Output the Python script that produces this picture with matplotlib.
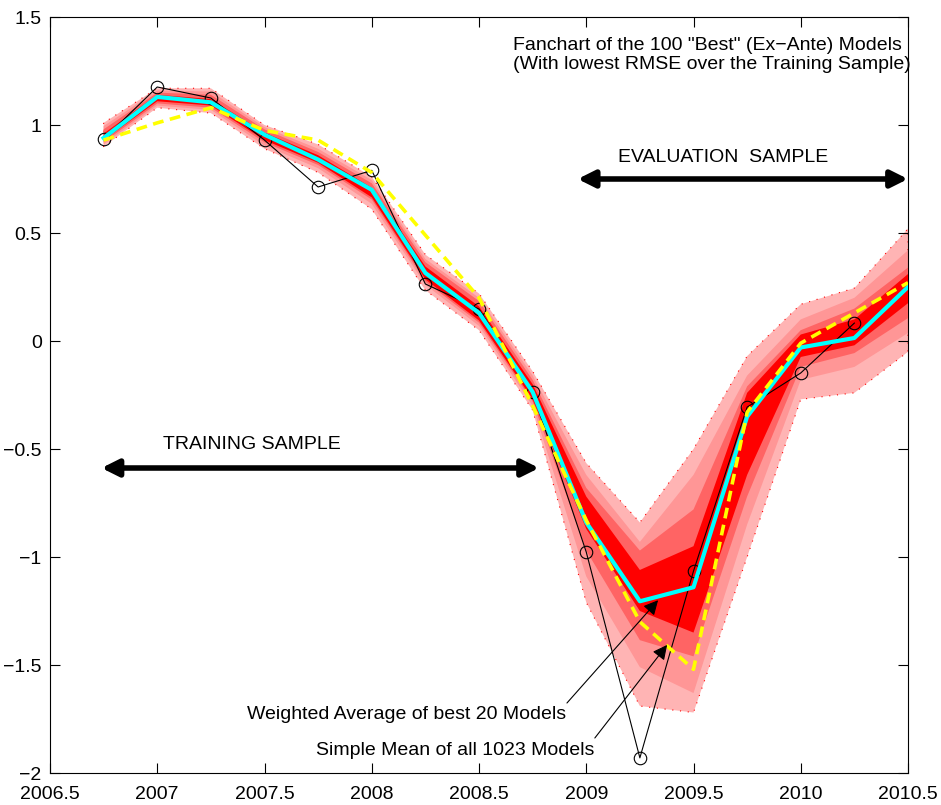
import matplotlib
matplotlib.use("Agg")
import matplotlib.pyplot as plt

plt.rcParams["font.family"] = ["Liberation Sans", "DejaVu Sans"]

# quarterly dates
quarters = [2006.75, 2007.0, 2007.25, 2007.5, 2007.75, 2008.0, 2008.25, 2008.5,
            2008.75, 2009.0, 2009.25, 2009.5, 2009.75, 2010.0, 2010.25, 2010.5]

# actual outcome (ends one quarter early)
actual = [0.935, 1.176, 1.125, 0.93, 0.713, 0.79, 0.264, 0.148,
          -0.236, -0.977, -1.93, -1.065, -0.306, -0.148, 0.083]

# weighted average of best 20 models
weighted_best20 = [0.94, 1.13, 1.105, 0.955, 0.84, 0.70, 0.315, 0.13,
                   -0.236, -0.84, -1.205, -1.14, -0.35, -0.03, 0.014, 0.25]

# simple mean of all 1023 models
simple_mean = [0.93, 1.01, 1.08, 0.975, 0.93, 0.78, 0.49, 0.20,
               -0.30, -0.83, -1.30, -1.52, -0.33, -0.01, 0.13, 0.27]

# fan bands, outermost (1) to innermost (4)
band1_lo = [0.90, 1.08, 1.055, 0.89, 0.78, 0.61, 0.235, 0.05,
            -0.32, -1.21, -1.69, -1.72, -1.00, -0.27, -0.24, -0.05]
band1_hi = [1.01, 1.17, 1.17, 1.00, 0.91, 0.76, 0.40, 0.22,
            -0.14, -0.565, -0.84, -0.50, -0.07, 0.17, 0.245, 0.52]
band2_lo = [0.91, 1.09, 1.07, 0.905, 0.80, 0.635, 0.26, 0.07,
            -0.30, -1.09, -1.51, -1.63, -0.85, -0.18, -0.12, 0.037]
band2_hi = [0.995, 1.16, 1.155, 0.99, 0.89, 0.745, 0.38, 0.20,
            -0.16, -0.62, -0.93, -0.62, -0.16, 0.10, 0.20, 0.42]
band3_lo = [0.92, 1.10, 1.08, 0.92, 0.815, 0.655, 0.275, 0.085,
            -0.28, -0.97, -1.385, -1.46, -0.72, -0.12, -0.056, 0.106]
band3_hi = [0.98, 1.15, 1.14, 0.98, 0.875, 0.73, 0.365, 0.185,
            -0.18, -0.68, -0.97, -0.78, -0.21, 0.05, 0.15, 0.34]
band4_lo = [0.93, 1.11, 1.09, 0.93, 0.825, 0.665, 0.285, 0.095,
            -0.27, -0.87, -1.25, -1.35, -0.62, -0.074, -0.02, 0.175]
band4_hi = [0.96, 1.14, 1.12, 0.965, 0.86, 0.71, 0.345, 0.16,
            -0.20, -0.72, -1.06, -0.95, -0.24, 0.03, 0.10, 0.31]

band_colors = ["#FFB4B4", "#FF9696", "#FF6464", "#FF0000"]

xticks = [2006.5, 2007, 2007.5, 2008, 2008.5, 2009, 2009.5, 2010, 2010.5]
xticklabels = ["2006.5", "2007", "2007.5", "2008", "2008.5", "2009", "2009.5", "2010", "2010.5"]
yticks = [-2, -1.5, -1, -0.5, 0, 0.5, 1, 1.5]
yticklabels = ["\u22122", "\u22121.5", "\u22121", "\u22120.5", "0", "0.5", "1", "1.5"]

fig = plt.figure(figsize=(9.41, 8.05), dpi=100)
ax = fig.add_axes([50 / 941, 32 / 805, 858 / 941, 756 / 805])

bands = [(band1_lo, band1_hi), (band2_lo, band2_hi), (band3_lo, band3_hi), (band4_lo, band4_hi)]
for i, (lo, hi) in enumerate(bands):
    if i == 0:
        ax.fill_between(quarters, lo, hi, facecolor=band_colors[i], edgecolor="red",
                        linestyle=(0, (1, 6)), linewidth=0.8, zorder=1)
    else:
        ax.fill_between(quarters, lo, hi, facecolor=band_colors[i], edgecolor="none",
                        linewidth=0, zorder=1 + i)

ax.plot(quarters[:len(actual)], actual, color="black", linewidth=0.8, marker="o",
        markersize=9, markerfacecolor="none", markeredgewidth=0.8, zorder=6)
ax.plot(quarters, weighted_best20, color="cyan", linewidth=3, zorder=7)
ax.plot(quarters, simple_mean, color="yellow", linewidth=2.6, dashes=(3, 1.8), zorder=8)

fs = 14

ax.text(2008.66, 1.325, 'Fanchart of the 100 "Best" (Ex\u2212Ante) Models\n'
        '(With lowest RMSE over the Training Sample)',
        fontsize=fs, ha="left", va="center", linespacing=1.2)

ax.text(2009.64, 0.85, "EVALUATION  SAMPLE", fontsize=fs, ha="center", va="center")
ax.annotate("", xy=(2008.96, 0.75), xytext=(2010.5, 0.75),
            arrowprops=dict(arrowstyle="<|-|>", color="black", lw=4,
                            mutation_scale=25, shrinkA=0, shrinkB=0))

ax.text(2007.44, -0.48, "TRAINING SAMPLE", fontsize=fs, ha="center", va="center")
ax.annotate("", xy=(2006.74, -0.588), xytext=(2008.78, -0.588),
            arrowprops=dict(arrowstyle="<|-|>", color="black", lw=4,
                            mutation_scale=25, shrinkA=0, shrinkB=0))

ax.annotate("", xy=(2009.335, -1.20), xytext=(2008.91, -1.676),
            arrowprops=dict(arrowstyle="-|>", color="black", lw=0.8,
                            mutation_scale=22, shrinkA=0, shrinkB=0), zorder=9)
ax.text(2008.164, -1.731, "Weighted Average of best 20 Models", fontsize=fs,
        ha="center", va="center")
ax.annotate("", xy=(2009.377, -1.407), xytext=(2009.04, -1.838),
            arrowprops=dict(arrowstyle="-|>", color="black", lw=0.8,
                            mutation_scale=22, shrinkA=0, shrinkB=0), zorder=9)
ax.text(2008.388, -1.894, "Simple Mean of all 1023 Models", fontsize=fs,
        ha="center", va="center")

ax.set_xlim(2006.5, 2010.5)
ax.set_ylim(-2, 1.5)
ax.set_xticks(xticks)
ax.set_xticklabels(xticklabels)
ax.set_yticks(yticks)
ax.set_yticklabels(yticklabels)
ax.tick_params(direction="in", length=7, width=0.8, top=True, right=True,
               labelsize=fs)
ax.tick_params(axis="x", pad=9)
ax.tick_params(axis="y", pad=6)
for sp in ax.spines.values():
    sp.set_linewidth(0.8)

plt.savefig("out.png", dpi=100)
